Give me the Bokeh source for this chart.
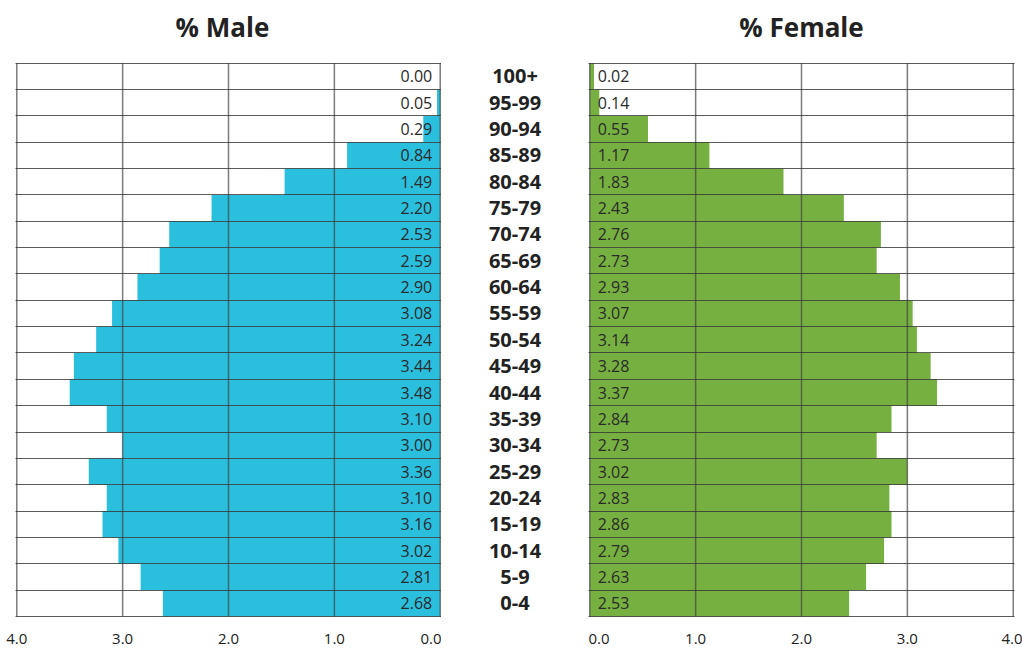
from bokeh.plotting import figure
from bokeh.layouts import row
from bokeh.models import Range1d, FixedTicker, ColumnDataSource
from bokeh.core.properties import value
from bokeh.embed import file_html
from bokeh.resources import INLINE

# ---- data (top row first) ----
ages = ["100+", "95-99", "90-94", "85-89", "80-84", "75-79", "70-74", "65-69",
        "60-64", "55-59", "50-54", "45-49", "40-44", "35-39", "30-34", "25-29",
        "20-24", "15-19", "10-14", "5-9", "0-4"]
male_labels = [0.00, 0.05, 0.29, 0.84, 1.49, 2.20, 2.53, 2.59, 2.90, 3.08, 3.24,
               3.44, 3.48, 3.10, 3.00, 3.36, 3.10, 3.16, 3.02, 2.81, 2.68]
female_labels = [0.02, 0.14, 0.55, 1.17, 1.83, 2.43, 2.76, 2.73, 2.93, 3.07, 3.14,
                 3.28, 3.37, 2.84, 2.73, 3.02, 2.83, 2.86, 2.79, 2.63, 2.53]
# bar lengths as drawn in the picture
male_bars = [0.00, 0.03, 0.16, 0.88, 1.47, 2.16, 2.56, 2.65, 2.86, 3.10, 3.25,
             3.46, 3.50, 3.15, 3.00, 3.32, 3.15, 3.19, 3.04, 2.83, 2.62]
female_bars = [0.04, 0.09, 0.55, 1.13, 1.83, 2.40, 2.75, 2.71, 2.93, 3.05, 3.09,
               3.22, 3.28, 2.85, 2.71, 3.00, 2.83, 2.85, 2.78, 2.61, 2.45]
x_ticks = [0, 1, 2, 3, 4]
titles = ["% Male", "% Female"]

n = len(ages)
ypos = [n - 1 - i + 0.5 for i in range(n)]

BLUE = "#2BBFDE"
GREEN = "#76B040"
H = 646
BOTTOM = 28
HEAD = 2.38      # rows of head-room above the grid for the title
TITLE_Y = 1.36   # title centre, rows above the grid
PAD = 0.012
FONT = "Open Sans"


def yr():
    return Range1d(-0.04, n + HEAD)


def panel(width, bl, br, x_range, bars, labels, color, title, title_x,
          label_align, label_off):
    p = figure(width=width, height=H, x_range=x_range, y_range=yr(),
               output_backend="svg", toolbar_location=None,
               min_border_left=bl, min_border_right=br,
               min_border_top=0, min_border_bottom=BOTTOM)
    src = ColumnDataSource(dict(y=ypos, v=bars, lab=["%.2f" % v for v in labels]))
    p.hbar(y="y", left=0, right="v", height=1.0, source=src,
           fill_color=color, line_color=None)
    p.text(x=0, y="y", text="lab", source=src, x_offset=label_off,
           text_align=label_align, text_baseline="middle",
           text_font=value(FONT), text_font_size="16px", text_color="#2a2a2a")
    # title
    p.text(x=[title_x], y=[n + TITLE_Y], text=[title], text_align="center",
           text_baseline="middle", text_font=value(FONT), text_font_size="26px",
           text_font_style="bold", text_color="#222222")
    # vertical grid lines (at the x ticks), over the bars
    p.segment(x0=x_ticks, y0=0, x1=x_ticks, y1=n, line_color="#444444",
              line_alpha=0.7, line_width=1.5, level="overlay")
    p.yaxis.visible = False
    p.xaxis.ticker = FixedTicker(ticks=x_ticks)
    p.xaxis.major_label_overrides = {t: "%.1f" % t for t in x_ticks}
    p.xaxis.axis_line_color = None
    p.xaxis.major_tick_line_color = None
    p.xaxis.minor_tick_line_color = None
    p.xaxis.major_label_standoff = 10
    p.xaxis.major_label_text_font = FONT
    p.xaxis.major_label_text_font_size = "15px"
    p.xaxis.major_label_text_color = "#222222"
    p.xgrid.visible = False
    p.ygrid.ticker = FixedTicker(ticks=list(range(0, n + 1)))
    p.ygrid.grid_line_color = "#333333"
    p.ygrid.grid_line_alpha = 0.8
    p.ygrid.grid_line_width = 1.2
    p.ygrid.level = "overlay"
    p.outline_line_color = None
    return p


pm = panel(441, 15, 0, Range1d(4 + PAD, -PAD), male_bars, male_labels, BLUE,
           titles[0], 2.057, "right", -8)
pf = panel(434, 0, 8, Range1d(-PAD, 4 + PAD), female_bars, female_labels, GREEN,
           titles[1], 2.0, "left", 8)

mid = figure(width=147, height=H, x_range=Range1d(-1, 1), y_range=yr(),
             output_backend="svg", toolbar_location=None,
             min_border_left=0, min_border_right=0,
             min_border_top=0, min_border_bottom=BOTTOM)
mid.axis.visible = False
mid.grid.visible = False
mid.outline_line_color = None
mid.text(x=0, y=ypos, text=ages, text_align="center", text_baseline="middle",
         text_font=value(FONT), text_font_size="20px", text_font_style="bold",
         text_color="#222222")

layout = row(pm, mid, pf)
open("out.html", "w").write(file_html(layout, INLINE))
